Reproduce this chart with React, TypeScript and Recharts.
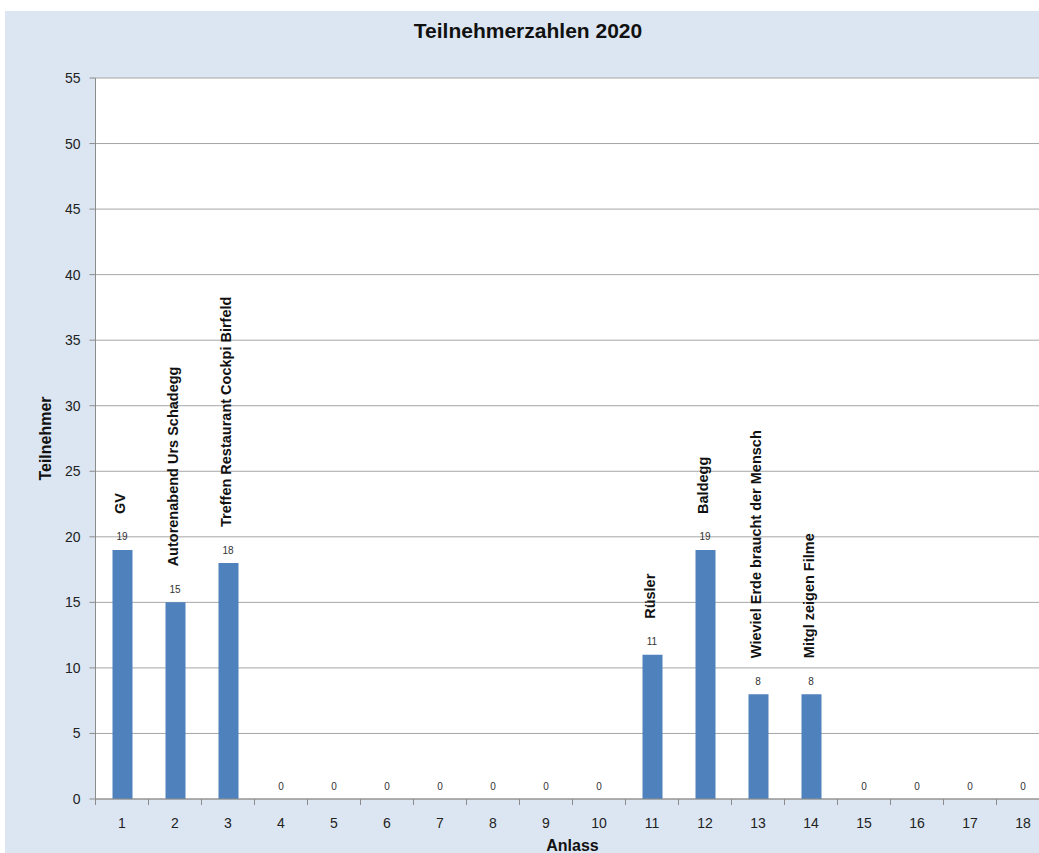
import React from 'react';
import { ComposedChart, Bar, Line, XAxis, YAxis, CartesianGrid, LabelList } from 'recharts';

const categories = ['1','2','3','4','5','6','7','8','9','10','11','12','13','14','15','16','17','18'];
const participants = [19, 15, 18, 0, 0, 0, 0, 0, 0, 0, 11, 19, 8, 8, 0, 0, 0, 0];
const eventNames = ['GV', 'Autorenabend  Urs Schadegg', 'Treffen Restaurant  Cockpi Birfeld', '', '', '', '', '', '', '', 'Rüsler', 'Baldegg', 'Wieviel Erde braucht der Mensch', 'Mitgl zeigen Filme', '', '', '', ''];
const yTicks = [0, 5, 10, 15, 20, 25, 30, 35, 40, 45, 50, 55];

const data = categories.map((c, i) => ({ cat: c, value: participants[i], name: eventNames[i] }));

const FONT = '"Liberation Sans", Arial, sans-serif';

const XTick = (props: any) => {
  const { x, y, payload } = props;
  const off = payload && typeof payload.offset === 'number' ? payload.offset : 26.5;
  return (
    <g>
      <line x1={x - off} x2={x - off} y1={y} y2={y + 6} stroke="#8c8c8c" strokeWidth={1} />
      <text x={x} y={y + 24} textAnchor="middle" dominantBaseline="central" fontSize={14} fill="#222" fontFamily={FONT}>
        {payload.value}
      </text>
    </g>
  );
};

const ValueLabel = (props: any) => {
  const { x, y, value } = props;
  return (
    <text x={x} y={y - 13} textAnchor="middle" dominantBaseline="central" fontSize={10} fill="#333" fontFamily={FONT}>
      {String(value)}
    </text>
  );
};

const NameLabel = (props: any) => {
  const { x, y, width, value } = props;
  if (!value) return null;
  const cx = x + width / 2 - 2;
  const ty = y - 36;
  return (
    <text
      x={cx}
      y={ty}
      transform={`rotate(-90, ${cx}, ${ty})`}
      textAnchor="start"
      dominantBaseline="central"
      fontSize={14.5}
      fontWeight="bold"
      fill="#111"
      fontFamily={FONT}
    >
      {value}
    </text>
  );
};

export default function App() {
  return (
    <div style={{ position: 'absolute', left: 5, top: 11, width: 1034, height: 842, overflow: 'hidden', background: '#dce6f2' }}>
      <div style={{ position: 'absolute', left: 0, top: 7, width: 1046, textAlign: 'center', fontFamily: FONT, fontWeight: 'bold', fontSize: 21, color: '#111', lineHeight: '26px' }}>
        Teilnehmerzahlen 2020
      </div>
      <ComposedChart
        width={1050}
        height={842}
        data={data}
        margin={{ top: 67, right: 5.5, bottom: 24, left: 0 }}
        barCategoryGap={0}
        style={{ position: 'absolute', left: 0, top: 0 }}
      >
        <CartesianGrid vertical={false} stroke="#a6a6a6" fill="#ffffff" fillOpacity={1} />
        <XAxis
          dataKey="cat"
          height={30}
          tickSize={0}
          tickMargin={0}
          tickLine={false}
          axisLine={{ stroke: '#8c8c8c' }}
          tick={<XTick />}
          interval={0}
          label={{
            content: (p: any) => {
              const vb = p.viewBox || {};
              return (
                <text x={vb.x + vb.width / 2} y={834} textAnchor="middle" dominantBaseline="central" fontSize={16} fontWeight="bold" fill="#111" fontFamily={FONT}>
                  Anlass
                </text>
              );
            },
          }}
        />
        <YAxis
          width={90.5}
          domain={[0, 55]}
          ticks={yTicks}
          interval={0}
          tickSize={6}
          tickMargin={9}
          tickLine={{ stroke: '#8c8c8c' }}
          axisLine={{ stroke: '#8c8c8c' }}
          tick={{ fontSize: 14, fill: '#222', fontFamily: FONT }}
          label={{
            content: (p: any) => {
              const vb = p.viewBox || {};
              const cy = vb.y + vb.height / 2;
              return (
                <text x={40} y={cy} transform={`rotate(-90, 40, ${cy})`} textAnchor="middle" dominantBaseline="central" fontSize={16} fontWeight="bold" fill="#111" fontFamily={FONT}>
                  Teilnehmer
                </text>
              );
            },
          }}
        />
        <Bar dataKey="value" fill="#4f81bd" barSize={20} isAnimationActive={false}>
          <LabelList dataKey="name" content={<NameLabel />} />
        </Bar>
        <Line dataKey="value" stroke="none" strokeWidth={0} dot={false} activeDot={false} legendType="none" isAnimationActive={false}>
          <LabelList dataKey="value" content={<ValueLabel />} />
        </Line>
      </ComposedChart>
    </div>
  );
}
